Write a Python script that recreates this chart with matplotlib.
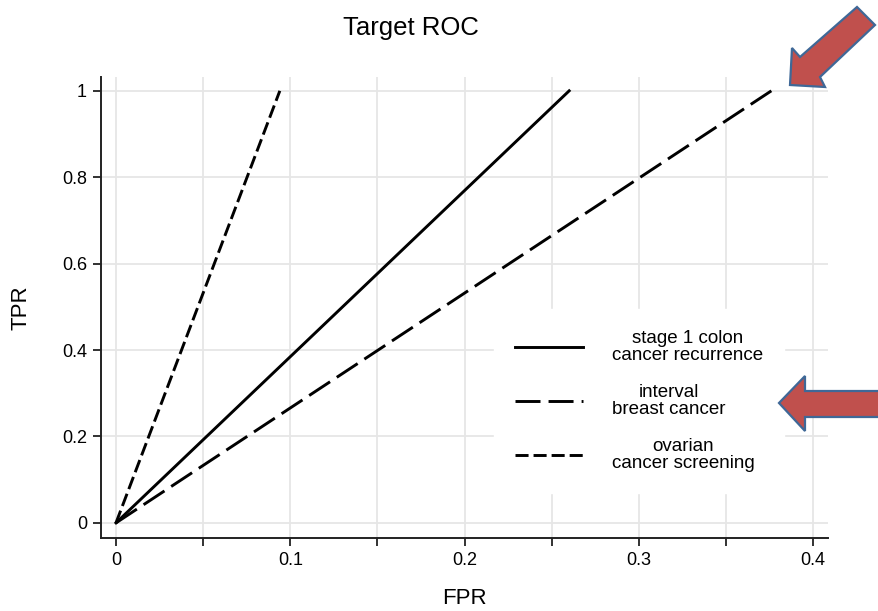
import matplotlib
matplotlib.use("Agg")
import matplotlib.pyplot as plt
from matplotlib.patches import Polygon
from matplotlib.transforms import Affine2D
from matplotlib.ticker import MultipleLocator

plt.rcParams['font.family'] = ['Liberation Sans', 'DejaVu Sans']
plt.rcParams['lines.scale_dashes'] = False

# ---- data ----
labels = ["stage 1 colon\ncancer recurrence", "interval\nbreast cancer", "ovarian\ncancer screening"]
fpr_end = [0.26, 0.376, 0.094]
tpr_end = [1.0, 1.0, 1.0]
x_ticks = [0, 0.1, 0.2, 0.3, 0.4]
x_ticklabels = ["0", "0.1", "0.2", "0.3", "0.4"]
y_ticks = [0, 0.2, 0.4, 0.6, 0.8, 1.0]
y_ticklabels = ["0", "0.2", "0.4", "0.6", "0.8", "1"]

W, H = 879, 611
fig = plt.figure(figsize=(W / 100, H / 100), dpi=100)
ax = fig.add_axes([101 / W, (H - 538) / H, 727 / W, 461 / H])

styles = [
    dict(linestyle='-'),
    dict(linestyle=(0, (18, 5.8))),
    dict(linestyle=(0, (9.4, 3.6))),
]
for lab, fx, ty, st in zip(labels, fpr_end, tpr_end, styles):
    ax.plot([0, fx], [0, ty], color='black', lw=2.1, label=lab, zorder=3, **st)

ax.set_xlim(-0.0086, 0.4085)
ax.set_ylim(-0.035, 1.032)
ax.set_xticks(x_ticks)
ax.set_xticklabels(x_ticklabels)
ax.xaxis.set_minor_locator(MultipleLocator(0.05))
ax.set_yticks(y_ticks)
ax.set_yticklabels(y_ticklabels)

ax.tick_params(axis='both', which='both', direction='out', length=6, width=1.3,
               color='#222222', labelsize=13, pad=4)
ax.tick_params(axis='x', which='minor', length=6)

ax.grid(True, which='major', axis='both', color='#E6E6E6', lw=1.3, zorder=0)
ax.grid(True, which='minor', axis='x', color='#E6E6E6', lw=1.3, zorder=0)
ax.set_axisbelow(True)

for s in ['top', 'right']:
    ax.spines[s].set_visible(False)
for s in ['left', 'bottom']:
    ax.spines[s].set_linewidth(1.4)
    ax.spines[s].set_color('#222222')

fig.text(411 / W, 1 - 28 / H, "Target ROC", fontsize=18.5, ha='center', va='center')
ax.set_xlabel("FPR", fontsize=16, labelpad=14)
ax.set_ylabel("TPR", fontsize=16, labelpad=22)

leg = ax.legend(loc='center', bbox_to_anchor=(0.740, 0.297), fontsize=13.5,
                frameon=True, fancybox=False, edgecolor='white', facecolor='white',
                framealpha=1.0, handlelength=3.6, handletextpad=1.55,
                borderpad=1.15, labelspacing=1.05, borderaxespad=0)
for t in leg.get_texts():
    t.set_multialignment('center')
    t.set_linespacing(1.0)

# ---- red block arrows (annotations), pixel coords from top-left ----
ptrans = Affine2D().scale(1 / 100) + fig.dpi_scale_trans

def px(pts):
    return [(x, H - y) for x, y in pts]

arrow1 = [(790, 85), (792, 48), (800, 57), (857, 7), (875, 25), (820, 77), (825, 87)]
arrow2 = [(779, 403), (805, 376), (805, 391), (885, 391), (885, 417), (805, 417), (805, 431)]
for pts in (arrow1, arrow2):
    fig.add_artist(Polygon(px(pts), closed=True, transform=ptrans,
                           facecolor='#C0504D', edgecolor='#3F6897', lw=1.6,
                           joinstyle='miter', zorder=10))

fig.savefig("out.png", dpi=100)
